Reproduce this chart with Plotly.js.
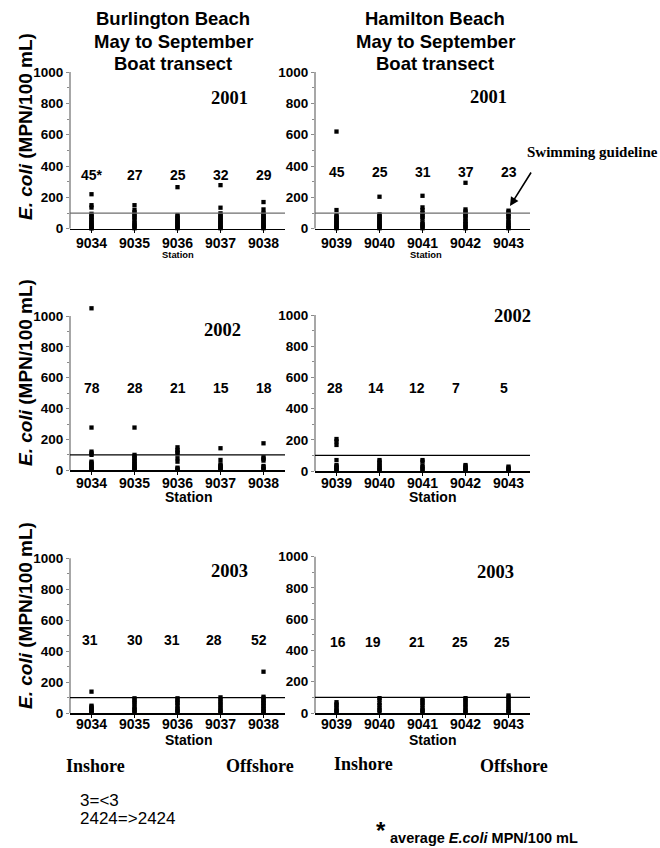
<!DOCTYPE html>
<html>
<head>
<meta charset="utf-8">
<script src="https://cdn.plot.ly/plotly-3.0.1.min.js"></script>
<style>
html,body{margin:0;padding:0;background:#fff;}
#chart{width:660px;height:848px;}
.xtick text, .ytick text { font-weight: bold !important; }
</style>
</head>
<body>
<div id="chart"></div>
<script>
// ---------- DATA ----------
const burlingtonStations = ['9034', '9035', '9036', '9037', '9038'];
const hamiltonStations = ['9039', '9040', '9041', '9042', '9043'];
const years = ['2001', '2002', '2003'];
const yTicks = [0, 200, 400, 600, 800, 1000];
const yMinorTicks = [100, 300, 500, 700, 900];
const guideline = 100;

// E. coli (MPN/100 mL) samples per station
const burl2001 = [
  [220, 150, 135, 95, 85, 75, 65, 55, 45, 38, 30, 22, 15, 9, 3, 3],
  [150, 120, 105, 92, 80, 70, 55, 40, 30, 20, 12, 3],
  [265, 87, 78, 68, 60, 50, 42, 35, 27, 20, 12, 6, 3],
  [278, 134, 98, 88, 78, 70, 60, 52, 44, 36, 28, 20, 12, 6, 3],
  [170, 123, 100, 90, 80, 72, 64, 55, 46, 38, 30, 22, 14, 8, 3]
];
const ham2001 = [
  [620, 119, 87, 78, 70, 60, 52, 44, 36, 28, 20, 12, 6, 3],
  [204, 91, 82, 74, 65, 56, 47, 38, 30, 22, 14, 8, 3],
  [210, 136, 119, 100, 88, 76, 64, 40, 30, 20, 12, 3],
  [293, 123, 110, 98, 88, 78, 65, 50, 40, 30, 20, 10, 3],
  [115, 105, 95, 85, 75, 60, 45, 35, 25, 15, 6, 3]
];
const burl2002 = [
  [1050, 277, 121, 110, 100, 56, 48, 40, 32, 24, 16, 9, 3],
  [277, 100, 90, 80, 70, 60, 50, 40, 32, 24, 16, 9, 3],
  [149, 132, 120, 110, 78, 56, 17, 10, 3],
  [143, 67, 39, 30, 24, 16, 9, 3],
  [175, 84, 75, 63, 28, 20, 9, 3]
];
const ham2002 = [
  [205, 190, 167, 70, 38, 30, 23, 16, 9, 3],
  [70, 60, 49, 35, 28, 17, 6, 3],
  [70, 60, 34, 24, 13, 3],
  [38, 30, 21, 13, 6, 3],
  [28, 20, 12, 6, 3]
];
const burl2003 = [
  [138, 47, 40, 30, 22, 15, 9, 3],
  [95, 85, 69, 60, 41, 30, 20, 9, 3],
  [95, 85, 70, 62, 45, 30, 20, 10, 4],
  [101, 90, 73, 62, 47, 35, 19, 10, 3],
  [267, 105, 95, 85, 75, 65, 55, 45, 35, 25, 15, 8, 3]
];
const ham2003 = [
  [69, 55, 47, 30, 19, 10, 4],
  [95, 85, 62, 50, 30, 20, 4],
  [88, 78, 62, 50, 30, 20, 10, 4],
  [95, 85, 73, 60, 47, 35, 19, 10, 4],
  [112, 100, 84, 72, 56, 45, 30, 20, 10, 4]
];

// number of samples per station
const burlCount2001 = ['45*', '27', '25', '32', '29'];
const hamCount2001 = ['45', '25', '31', '37', '23'];
const burlCount2002 = ['78', '28', '21', '15', '18'];
const hamCount2002 = ['28', '14', '12', '7', '5'];
const burlCount2003 = ['31', '30', '31', '28', '52'];
const hamCount2003 = ['16', '19', '21', '25', '25'];

// ---------- LAYOUT HELPERS ----------
const W = 660, H = 848;
const px = x => x / W;
const py = y => 1 - y / H;
const SANS = 'Liberation Sans, Arial, sans-serif';
const SERIF = 'Liberation Serif, Times New Roman, serif';
const YMAX = 1100; // headroom so that off-scale points stay visible

const panels = [
  {stations: burlingtonStations, vals: burl2001, counts: burlCount2001, year: years[0], x0: 70, x1: 285, yTop: 72, yBot: 228.7, countY: 340, countShift: [0,0,0,0,0], yearX: 229, yearY: 98, guideColor: '#6e6e6e', stationSize: 9.4, stationX: 178, stationY: 254.5, tickStand: -2},
  {stations: hamiltonStations, vals: ham2001, counts: hamCount2001, year: years[0], x0: 315, x1: 530, yTop: 72, yBot: 228.7, countY: 365, countShift: [0,0,0,0,0], yearX: 488, yearY: 97, guideColor: '#6e6e6e', stationSize: 9.4, stationX: 426, stationY: 254.5, tickStand: -2},
  {stations: burlingtonStations, vals: burl2002, counts: burlCount2002, year: years[1], x0: 70, x1: 285, yTop: 316, yBot: 470.3, countY: 532, countShift: [0,0,0,0,0], yearX: 222, yearY: 330, guideColor: '#000', stationSize: 14, stationX: 188, stationY: 497, tickStand: -4},
  {stations: hamiltonStations, vals: ham2002, counts: hamCount2002, year: years[1], x0: 315, x1: 530, yTop: 315, yBot: 471, countY: 530, countShift: [-2,-4,-6,-10,-5], yearX: 512, yearY: 316, guideColor: '#000', stationSize: 14, stationX: 433, stationY: 497, tickStand: -4},
  {stations: burlingtonStations, vals: burl2003, counts: burlCount2003, year: years[2], x0: 70, x1: 285, yTop: 558.3, yBot: 713, countY: 475, countShift: [-2,0,-6,-7,-5], yearX: 229, yearY: 571, guideColor: '#000', stationSize: 14, stationX: 188, stationY: 740, tickStand: -5},
  {stations: hamiltonStations, vals: ham2003, counts: hamCount2003, year: years[2], x0: 315, x1: 530, yTop: 556.7, yBot: 713, countY: 455, countShift: [1,-7,-6,-6,-7], yearX: 496, yearY: 572, guideColor: '#000', stationSize: 14, stationX: 433, stationY: 740, tickStand: -5}
];

const data = [];
const layout = {
  width: W, height: H,
  margin: {l: 0, r: 0, t: 0, b: 0},
  paper_bgcolor: '#fff', plot_bgcolor: 'rgba(0,0,0,0)',
  showlegend: false,
  font: {family: SANS, color: '#000'},
  annotations: [], shapes: []
};

function note(x, y, text, font, extra) {
  layout.annotations.push(Object.assign({
    xref: 'paper', yref: 'paper', x: px(x), y: py(y), text: text, showarrow: false,
    xanchor: 'center', yanchor: 'middle', font: font
  }, extra || {}));
}

panels.forEach((p, k) => {
  const n = k + 1;
  const xa = n === 1 ? 'x' : 'x' + n;
  const ya = n === 1 ? 'y' : 'y' + n;
  const xs = [], ys = [];
  p.vals.forEach((arr, i) => arr.forEach(v => { xs.push(p.stations[i]); ys.push(v); }));
  data.push({
    type: 'scatter', mode: 'markers', x: xs, y: ys, xaxis: xa, yaxis: ya,
    cliponaxis: false,
    marker: {symbol: 'square', size: 4.3, color: '#000', line: {width: 0}},
    hoverinfo: 'x+y'
  });
  const pxPerUnit = (p.yBot - p.yTop) / 1000;
  const yTopExt = p.yBot - pxPerUnit * YMAX;
  layout[(n === 1 ? 'xaxis' : 'xaxis' + n)] = {
    domain: [px(p.x0), px(p.x1)], anchor: ya,
    type: 'category', categoryorder: 'array', categoryarray: p.stations,
    range: [-0.5, 4.5], fixedrange: true,
    showline: true, linecolor: '#000', linewidth: 1.5,
    ticks: 'outside', ticklen: 3, tickcolor: '#000', tickwidth: 1,
    ticklabelstandoff: p.tickStand,
    showgrid: false, zeroline: false,
    tickfont: {family: SANS, size: 14, weight: 'bold', color: '#000'}
  };
  layout[(n === 1 ? 'yaxis' : 'yaxis' + n)] = {
    domain: [py(p.yBot), py(yTopExt)], anchor: xa,
    range: [0, YMAX], fixedrange: true,
    tickmode: 'array', tickvals: yTicks, ticktext: yTicks.map(String),
    showline: false,
    ticks: 'outside', ticklen: 3, tickcolor: '#8a8a8a', tickwidth: 1,
    minor: {tickmode: 'array', tickvals: yMinorTicks, ticks: 'outside', ticklen: 2, tickcolor: '#8a8a8a', tickwidth: 1, showgrid: false},
    showgrid: false, zeroline: false,
    tickfont: {family: SANS, size: 13.5, weight: 'bold', color: '#000'}
  };
  // y axis line (0 to 1000 only)
  layout.shapes.push({
    type: 'line', xref: xa + ' domain', yref: ya, x0: 0, x1: 0, y0: 0, y1: 1000,
    line: {color: '#8a8a8a', width: 1.5}
  });
  // swimming guideline
  layout.shapes.push({
    type: 'line', xref: xa + ' domain', yref: ya, x0: 0, x1: 1, y0: guideline, y1: guideline,
    line: {color: p.guideColor, width: 1.2}
  });
  p.counts.forEach((c, i) => {
    layout.annotations.push({
      xref: xa, yref: ya, x: i, y: p.countY, text: c, showarrow: false,
      xanchor: 'center', yanchor: 'middle',
      xshift: p.countShift[i],
      font: {family: SANS, size: 14, weight: 'bold', color: '#000'}
    });
  });
  note(p.yearX, p.yearY, p.year, {family: SERIF, size: 18.5, weight: 'bold', color: '#000'});
  note(p.stationX, p.stationY, 'Station', {family: SANS, size: p.stationSize, weight: 'bold', color: '#000'});
});

// y-axis titles
[127, 373, 616].forEach(yc => {
  note(25, yc, '<i>E. coli</i> (MPN/100 mL)', {family: SANS, size: 19, weight: 'bold', color: '#000'}, {textangle: -90});
});

// panel headings
const headings = [
  {x: 173, lines: ['Burlington Beach', 'May to September', 'Boat transect']},
  {x: 435, lines: ['Hamilton Beach', 'May to September', 'Boat transect']}
];
const headY = [18, 41, 63];
headings.forEach(h => h.lines.forEach((t, i) => {
  note(h.x, headY[i], t, {family: SANS, size: 18.5, weight: 'bold', color: '#000'});
}));

// Inshore / Offshore
[[95, 766, 'Inshore'], [260, 766, 'Offshore'], [363, 764, 'Inshore'], [514, 766, 'Offshore']].forEach(a => {
  note(a[0], a[1], a[2], {family: SERIF, size: 18, weight: 'bold', color: '#000'});
});

// Swimming guideline label + arrow
note(660, 152, 'Swimming guideline', {family: SERIF, size: 15, weight: 'bold', color: '#000'}, {xanchor: 'right'});
layout.annotations.push({
  xref: 'paper', yref: 'paper', x: px(510), y: py(206), text: '', showarrow: true,
  ax: 22, ay: -35, arrowhead: 2, arrowsize: 1.1, arrowwidth: 1.6, arrowcolor: '#000', standoff: 0
});

// footnotes
note(78, 800, '3=<3', {family: SANS, size: 17, color: '#000'}, {xanchor: 'left'});
note(78, 818, '2424=>2424', {family: SANS, size: 17, color: '#000'}, {xanchor: 'left'});
note(381, 830, '*', {family: SANS, size: 24, weight: 'bold', color: '#000'});
note(388, 838, 'average <i>E.coli</i> MPN/100 mL', {family: SANS, size: 14.5, weight: 'bold', color: '#000'}, {xanchor: 'left'});

Plotly.newPlot('chart', data, layout, {displayModeBar: false, staticPlot: true});
</script>
</body>
</html>
